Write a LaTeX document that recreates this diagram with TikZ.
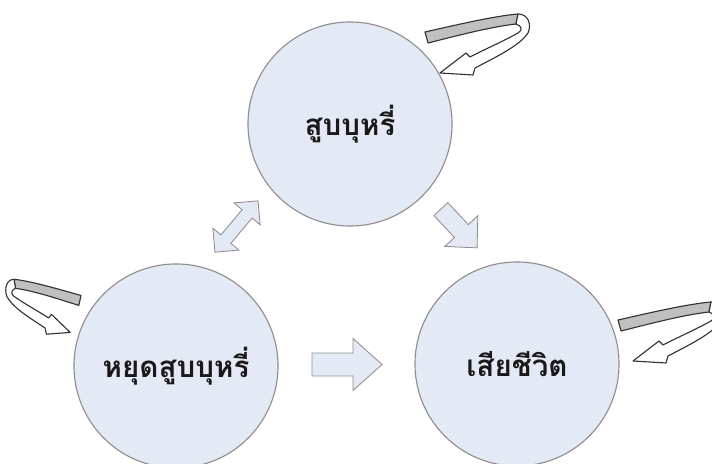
\documentclass[tikz,border=0pt]{standalone}
\usepackage{fontspec}
\newfontfamily\thaifont[Script=Thai]{Loma}

\definecolor{statefill}{HTML}{E3EAF6}
\definecolor{stateline}{HTML}{8E8E8E}
\definecolor{bandgray}{HTML}{C0C0C0}
\definecolor{bandline}{HTML}{333333}

\tikzset{
  state/.style={circle, draw=stateline, fill=statefill, line width=0.8pt,
    minimum size=5.1cm, inner sep=0pt, text=black!90,
    font=\thaifont\bfseries\fontsize{21}{25}\selectfont},
  fatarrow/.style={draw=stateline, fill=statefill, line width=0.6pt},
  band/.style={draw=bandline, line width=0.8pt, line join=round},
  % block arrow: length/shaft/head width/head length
  pics/singlearrow/.style args={#1/#2/#3/#4}{code={
    \path[fatarrow] ({-#1/2},{-#2/2}) -- ({#1/2-#4},{-#2/2}) -- ({#1/2-#4},{-#3/2})
      -- ({#1/2},0) -- ({#1/2-#4},{#3/2}) -- ({#1/2-#4},{#2/2}) -- ({-#1/2},{#2/2}) -- cycle;
  }},
  pics/doublearrow/.style args={#1/#2/#3/#4}{code={
    \path[fatarrow] ({-#1/2},0) -- ({-#1/2+#4},{-#3/2}) -- ({-#1/2+#4},{-#2/2})
      -- ({#1/2-#4},{-#2/2}) -- ({#1/2-#4},{-#3/2}) -- ({#1/2},0)
      -- ({#1/2-#4},{#3/2}) -- ({#1/2-#4},{#2/2}) -- ({-#1/2+#4},{#2/2})
      -- ({-#1/2+#4},{#3/2}) -- cycle;
  }},
  % curled ribbon arrow, grey back and white front
  pics/selfloop/.style={code={
    \path[band, fill=bandgray] (0,-5) .. controls (35,-13) and (70,-21) .. (93,-23)
      -- (91,-13) .. controls (65,-10) and (35,-2) .. (3,6) -- cycle;
    \path[band, fill=white] (45,20) -- (41,16) -- (15,36) -- (48,38) -- (50,31)
      .. controls (75,18) and (95,8) .. (103,-4)
      .. controls (107,-13) and (103,-23) .. (93,-23) -- (91,-13)
      .. controls (97,-11) and (98,-7) .. (93,-4)
      .. controls (75,6) and (58,13) .. (45,20) -- cycle;
  }}
}

\begin{document}
\begin{tikzpicture}[x=0.025cm, y=-0.025cm]
  \path[use as bounding box, clip] (0,0) rectangle (712,464);

  % states
  \node[state] (smoke) at (350,124) {สูบบุหรี่};
  \node[state] (quit) at (176,366) {หยุดสูบบุหรี่};
  \node[state] (dead) at (517,364) {เสียชีวิต};

  % transitions
  \pic[rotate=50] at (236.5,226.5) {doublearrow=67/13/34/17};
  \pic[rotate=-47] at (459,228.5) {singlearrow=53/19/45/23};
  \pic at (347,364.5) {singlearrow=70/23/52/29};

  % staying in the same state
  \pic at (425,37) {selfloop};
  \pic at (618,325) {selfloop};
  \pic[xscale=-0.72, yscale=0.9] at (81,300) {selfloop};
\end{tikzpicture}
\end{document}
